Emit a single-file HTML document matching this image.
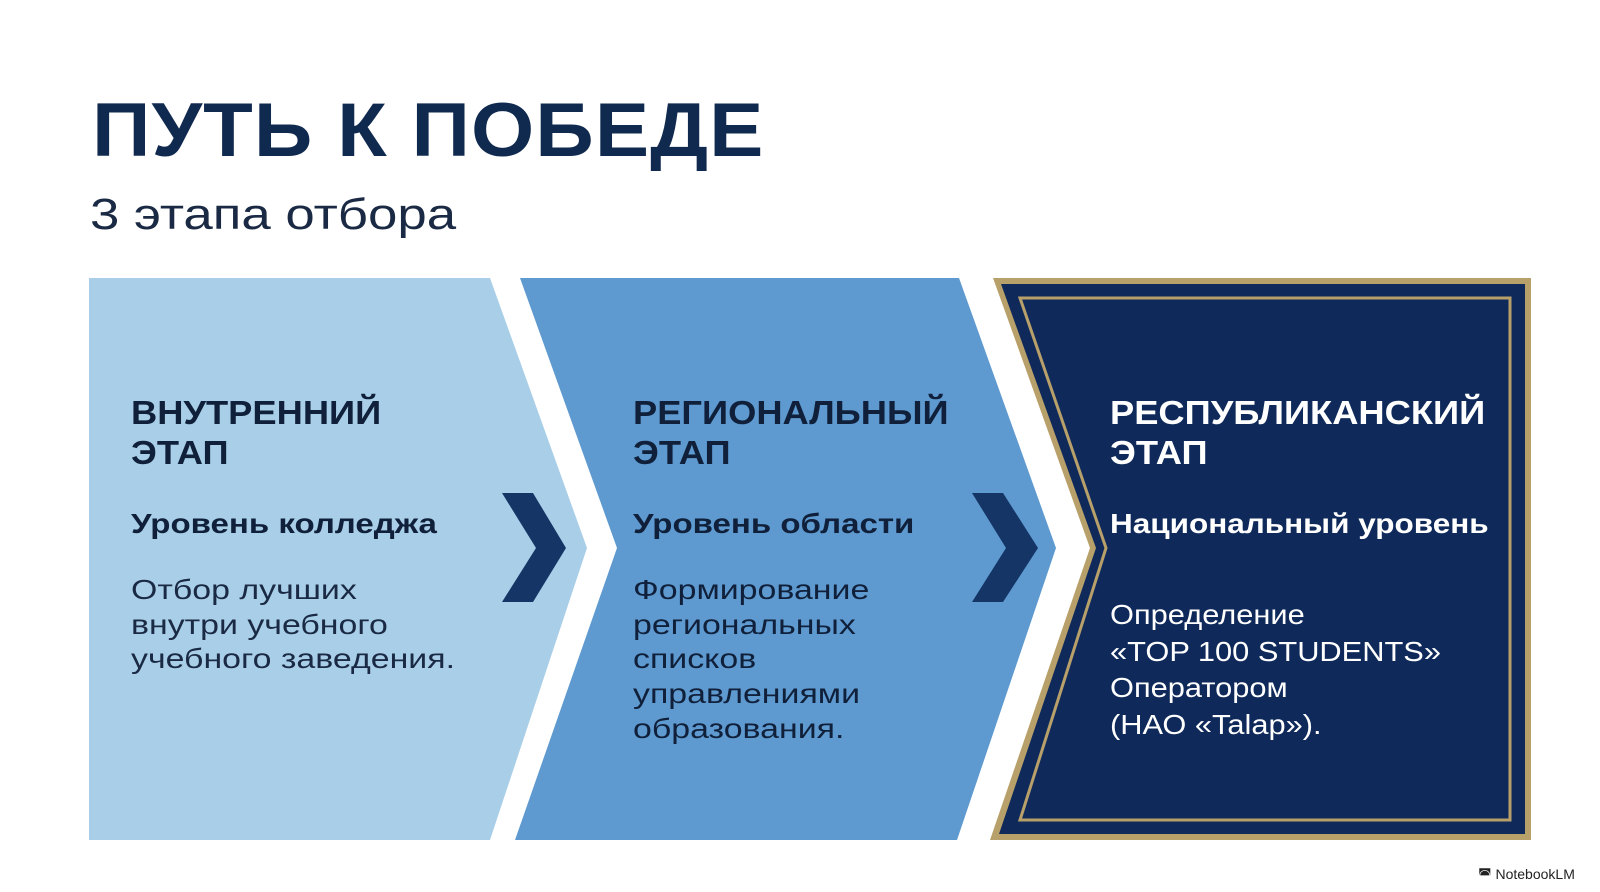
<!DOCTYPE html>
<html><head><meta charset="utf-8"><style>
body{margin:0;width:1600px;height:892px;background:#fff;position:relative;overflow:hidden;font-family:"Liberation Sans",sans-serif;}
.t{position:absolute;white-space:nowrap;transform-origin:0 0;}
</style></head><body>
<svg width="1600" height="892" style="position:absolute;left:0;top:0">
<polygon points="89,278 490,278 587,548 490,840 89,840" fill="#a9cfe8"/>
<polygon points="520,278 959,278 1056,548 957,840 515,840 617,548" fill="#5e9ad0"/>
<polygon points="993,278 1531,278 1531,840 990,840 1090,548" fill="#b8a06a"/>
<polygon points="1001,284 1525,284 1525,834 999,834 1096,548" fill="#0f2a5a"/>
<polygon points="1020,298 1510,298 1510,820 1020,820 1106,548" fill="none" stroke="#b8a06a" stroke-width="3"/>
<polygon points="502,493 533,493 566,548 533,602 502,602 536,548" fill="#143566"/>
<polygon points="972,493 1003,493 1038,548 1003,602 972,602 1006,548" fill="#143566"/>
</svg>
<div class="t" style="left:92px;top:87px;font-size:76px;font-weight:bold;color:#10294f;letter-spacing:1px;transform:scaleX(1.07)">ПУТЬ К ПОБЕДЕ</div>
<div class="t" style="left:90px;top:190px;font-size:44px;color:#1b2a44;transform:scaleX(1.2)">3 этапа отбора</div>
<div class="t" style="left:131px;top:393px;font-size:33px;font-weight:bold;color:#10203a;line-height:40px;transform:scaleX(1.1)">ВНУТРЕННИЙ<br>ЭТАП</div>
<div class="t" style="left:131px;top:508px;font-size:28px;font-weight:bold;color:#10203a;transform:scaleX(1.18)">Уровень колледжа</div>
<div class="t" style="left:131px;top:573px;font-size:28px;color:#1b2a44;line-height:34.7px;transform:scaleX(1.21)">Отбор лучших<br>внутри учебного<br>учебного заведения.</div>
<div class="t" style="left:633px;top:393px;font-size:33px;font-weight:bold;color:#10203a;line-height:40px;transform:scaleX(1.1)">РЕГИОНАЛЬНЫЙ<br>ЭТАП</div>
<div class="t" style="left:633px;top:508px;font-size:28px;font-weight:bold;color:#10203a;transform:scaleX(1.18)">Уровень области</div>
<div class="t" style="left:633px;top:573px;font-size:28px;color:#10203a;line-height:34.7px;transform:scaleX(1.21)">Формирование<br>региональных<br>списков<br>управлениями<br>образования.</div>
<div class="t" style="left:1110px;top:393px;font-size:33px;font-weight:bold;color:#fff;line-height:40px;transform:scaleX(1.1)">РЕСПУБЛИКАНСКИЙ<br>ЭТАП</div>
<div class="t" style="left:1110px;top:508px;font-size:28px;font-weight:bold;color:#fff;transform:scaleX(1.125)">Национальный уровень</div>
<div class="t" style="left:1110px;top:597px;font-size:28px;color:#fff;line-height:36.7px;transform:scaleX(1.1)">Определение<br>«TOP 100 STUDENTS»<br>Оператором<br>(НАО «Talap»).</div>
<div class="t" style="left:1478px;top:866px;font-size:14px;color:#222">◚ NotebookLM</div>
</body></html>
